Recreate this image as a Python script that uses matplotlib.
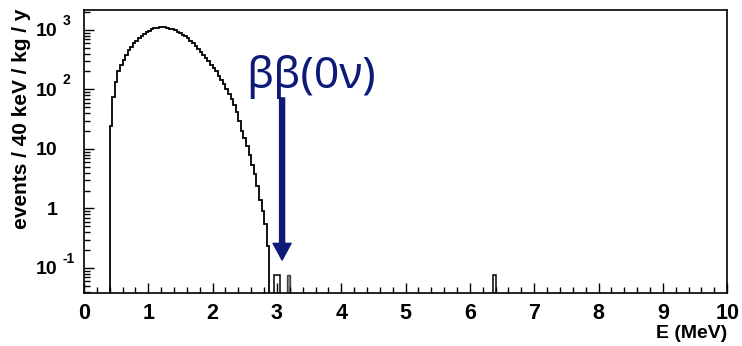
import numpy as np
import matplotlib
matplotlib.use("Agg")
import matplotlib.pyplot as plt
import matplotlib.transforms as mtransforms

plt.rcParams['font.family'] = ['Liberation Sans', 'DejaVu Sans']
plt.rcParams['font.weight'] = 'bold'

# 2nu double beta spectrum, 40 keV bins starting at 0.40 MeV
bin_width = 0.04
spec_start = 0.40
spec_counts = [24, 76, 135, 200, 259, 313, 380, 461, 524, 596,
               662, 725, 793, 857, 925, 974, 1027, 1067, 1094, 1108,
               1110, 1100, 1085, 1055, 1020, 985, 935, 885, 830, 775,
               720, 660, 595, 530, 480, 430, 385, 340, 300, 262,
               228, 200, 168, 142, 122, 100, 84, 68, 54, 42,
               30, 20, 15, 11, 7.8, 5.4, 3.8, 2.4, 1.4, 0.9,
               0.55, 0.23]

# isolated background bins above the endpoint
bkg_starts = [2.96, 6.36]
bkg_widths = [0.08, 0.04]
bkg_counts = [0.075, 0.075]
peak_start = 3.16
peak_count = 0.075

arrow_E = 3.08
arrow_top = 72
arrow_tip = 0.136
navy = '#0d1a78'

y_ticks = [0.1, 1, 10, 100, 1000]
y_base = ['10', '1', '10', '10', '10']
y_exp = ['-1', '', '', '2', '3']

fig = plt.figure(figsize=(7.42, 3.46), dpi=100)
ax = fig.add_axes([0.1132, 0.1532, 0.8668, 0.8193])
ax.set_yscale('log')
ax.set_xlim(0, 10)
ax.set_ylim(0.038, 2200)

edges = spec_start + bin_width * np.arange(len(spec_counts) + 1)
ax.stairs(spec_counts, edges, baseline=1e-4, color='black', lw=1.3)

for s, w, c in zip(bkg_starts, bkg_widths, bkg_counts):
    ax.stairs([c], [s, s + w], baseline=1e-4, color='black', lw=1.1)
ax.stairs([peak_count], [peak_start, peak_start + bin_width], baseline=1e-4,
          fill=True, color='#8a8a8a', ec='#444444', lw=1.0)

ax.annotate('', xy=(arrow_E, arrow_tip), xytext=(arrow_E, arrow_top),
            arrowprops=dict(width=3.6, headwidth=13, headlength=12,
                            color=navy, shrink=0))
ax.text(2.52, 106, 'ββ(0ν)', color=navy, fontsize=32, fontweight=600,
        family=['Noto Sans', 'DejaVu Sans'], ha='left', va='baseline')

ax.set_xticks(np.arange(0, 11, 1))
ax.set_xticks(np.arange(0, 10.01, 0.2), minor=True)
ax.set_xticklabels([str(i) for i in range(11)], fontsize=15.5, fontweight='bold')

# ROOT style log labels: base right-aligned, exponent hanging to the right
ax.set_yticks(y_ticks)
ax.set_yticklabels(y_base, fontsize=14, fontweight='bold')
ytrans = mtransforms.blended_transform_factory(ax.transAxes, ax.transData)
for v, e in zip(y_ticks, y_exp):
    if e:
        t = mtransforms.offset_copy(ytrans, fig=fig, x=-21, y=9, units='dots')
        ax.text(0, v, e, transform=t, fontsize=10, fontweight='bold',
                ha='left', va='center')

ax.tick_params(which='both', direction='in', top=False, right=False, width=1.0)
ax.tick_params(which='major', length=7)
ax.tick_params(which='minor', length=4)
ax.tick_params(axis='x', pad=7)
ax.tick_params(axis='y', pad=19)
for sp in ax.spines.values():
    sp.set_linewidth(1.2)

ax.set_ylabel('events / 40 keV / kg / y', fontsize=15, fontweight='bold')
ax.yaxis.set_label_coords(-0.082, 0.615)
ax.set_xlabel('E (MeV)', fontsize=14, fontweight='bold', loc='right')
ax.xaxis.set_label_coords(1.0, -0.112)

fig.savefig('out.png', dpi=100)
